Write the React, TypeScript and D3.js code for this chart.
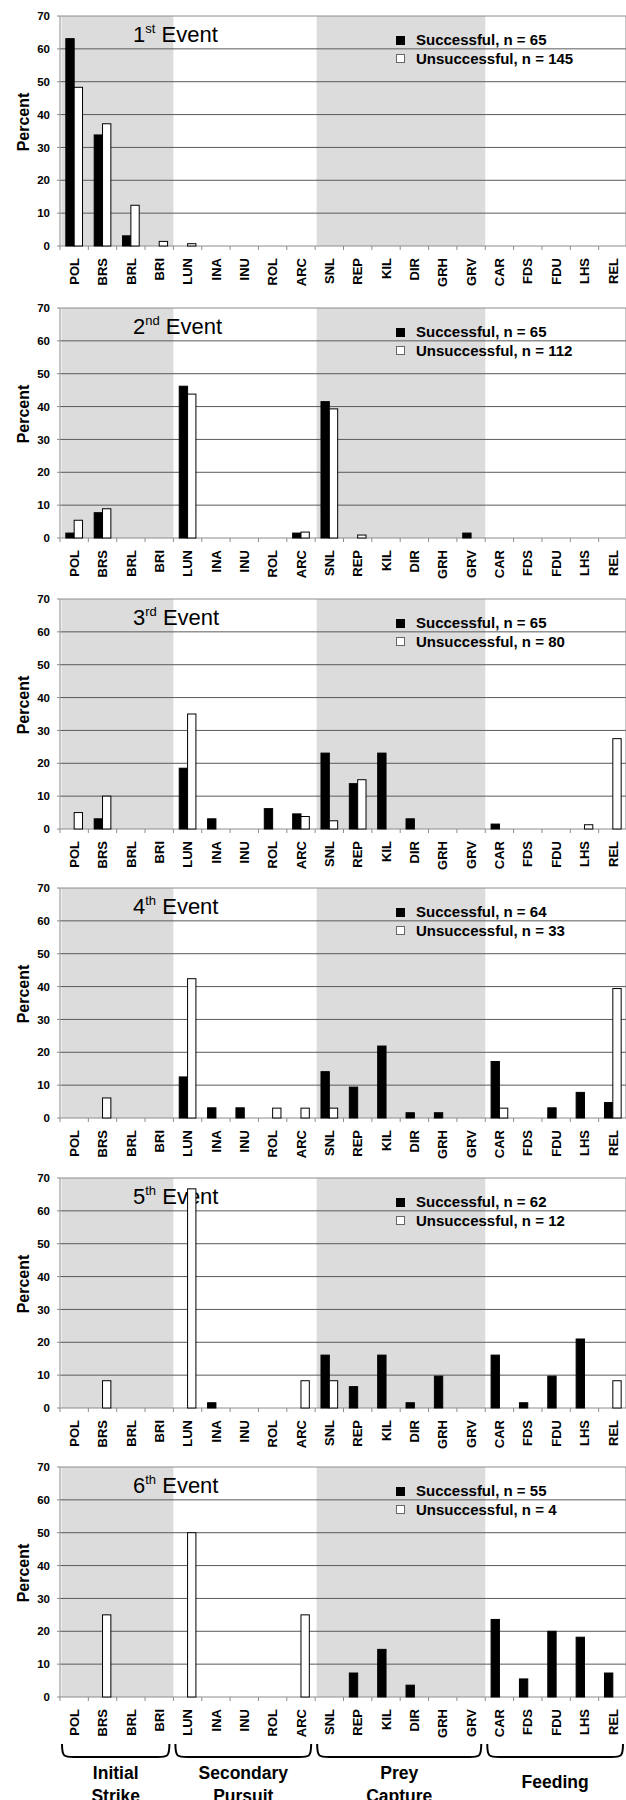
import React from 'react'
import * as d3 from 'd3'

// behaviour categories along the x axis
const categories = ['POL', 'BRS', 'BRL', 'BRI', 'LUN', 'INA', 'INU', 'ROL', 'ARC', 'SNL', 'REP', 'KIL', 'DIR', 'GRH', 'GRV', 'CAR', 'FDS', 'FDU', 'LHS', 'REL']

// percent of strikes per category, one row per event
const successful = [
  [63.1, 33.8, 3.1, 0, 0, 0, 0, 0, 0, 0, 0, 0, 0, 0, 0, 0, 0, 0, 0, 0],
  [1.5, 7.7, 0, 0, 46.2, 0, 0, 0, 1.5, 41.5, 0, 0, 0, 0, 1.5, 0, 0, 0, 0, 0],
  [0, 3.1, 0, 0, 18.5, 3.1, 0, 6.2, 4.6, 23.1, 13.8, 23.1, 3.1, 0, 0, 1.5, 0, 0, 0, 0],
  [0, 0, 0, 0, 12.5, 3.1, 3.1, 0, 0, 14.1, 9.4, 21.9, 1.6, 1.6, 0, 17.2, 0, 3.1, 7.8, 4.7],
  [0, 0, 0, 0, 0, 1.6, 0, 0, 0, 16.1, 6.5, 16.1, 1.6, 9.7, 0, 16.1, 1.6, 9.7, 21.0, 0],
  [0, 0, 0, 0, 0, 0, 0, 0, 0, 0, 7.3, 14.5, 3.6, 0, 0, 23.6, 5.5, 20.0, 18.2, 7.3],
]
const unsuccessful = [
  [48.3, 37.2, 12.4, 1.4, 0.7, 0, 0, 0, 0, 0, 0, 0, 0, 0, 0, 0, 0, 0, 0, 0],
  [5.4, 8.9, 0, 0, 43.8, 0, 0, 0, 1.8, 39.3, 0.9, 0, 0, 0, 0, 0, 0, 0, 0, 0],
  [5.0, 10.0, 0, 0, 35.0, 0, 0, 0, 3.8, 2.5, 15.0, 0, 0, 0, 0, 0, 0, 0, 1.3, 27.5],
  [0, 6.1, 0, 0, 42.4, 0, 0, 3.0, 3.0, 3.0, 0, 0, 0, 0, 0, 3.0, 0, 0, 0, 39.4],
  [0, 8.3, 0, 0, 66.7, 0, 0, 0, 8.3, 8.3, 0, 0, 0, 0, 0, 0, 0, 0, 0, 8.3],
  [0, 25.0, 0, 0, 50.0, 0, 0, 0, 25.0, 0, 0, 0, 0, 0, 0, 0, 0, 0, 0, 0],
]
const nSuccessful = [65, 65, 65, 64, 62, 55]
const nUnsuccessful = [145, 112, 80, 33, 12, 4]
const eventNumbers = ['1', '2', '3', '4', '5', '6']
const ordinals = ['st', 'nd', 'rd', 'th', 'th', 'th']
const yTicks = [0, 10, 20, 30, 40, 50, 60, 70]

// phase groups: first and last category, label lines
const groups = [
  { from: 'POL', to: 'BRI', lines: ['Initial', 'Strike'], shaded: true },
  { from: 'LUN', to: 'ARC', lines: ['Secondary', 'Pursuit'], shaded: false },
  { from: 'SNL', to: 'GRV', lines: ['Prey', 'Capture'], shaded: true },
  { from: 'CAR', to: 'REL', lines: ['Feeding'], shaded: false },
]

const W = 626
const H = 1800
const left = 60
const plotH = 230
const panelTops = [16, 308, 599, 888, 1178, 1467]
const font = '"Liberation Sans", Arial, sans-serif'

const x = d3.scaleBand<string>().domain(categories).range([left, left + 20 * 28.35])
const bw = x.bandwidth()
const sub = d3.scaleBand<string>().domain(['s', 'u']).range([0, bw]).paddingInner(0).paddingOuter(0.7)

function Panel({ i }: { i: number }) {
  const top = panelTops[i]
  const y = d3.scaleLinear().domain([0, 70]).range([top + plotH, top])
  const y0 = y(0)
  const right = x.range()[1]
  return (
    <g>
      {groups.filter(g => g.shaded).map(g => (
        <rect key={g.from} x={(x(g.from) as number) + 1.5} y={top} width={(x(g.to) as number) + bw - (x(g.from) as number) - 1.5} height={plotH} fill="#dcdcdc" />
      ))}
      {yTicks.map(t => (
        <line key={t} x1={left} x2={right} y1={y(t)} y2={y(t)} stroke={t === 0 || t === 70 ? '#8c8c8c' : '#5a5a5a'} strokeWidth={1} />
      ))}
      <line x1={right - 1} x2={right - 1} y1={top} y2={y0} stroke="#8c8c8c" />
      <line x1={left} x2={left} y1={top} y2={y0 + 4} stroke="#8c8c8c" />
      {yTicks.map(t => (
        <g key={t}>
          <line x1={left - 3} x2={left} y1={y(t)} y2={y(t)} stroke="#8c8c8c" />
          <text x={50} y={y(t)} dy="0.36em" textAnchor="end" fontSize={11.5} fontWeight="bold" fontFamily={font}>{t}</text>
        </g>
      ))}
      {categories.map((c, k) => (
        <line key={c} x1={(x(c) as number) + bw} x2={(x(c) as number) + bw} y1={y0} y2={y0 + 4} stroke="#8c8c8c" />
      ))}
      {categories.map(c => (
        <text key={c} transform={`translate(${(x(c) as number) + bw / 2},${y0 + 12}) rotate(-90)`} dy="0.36em" textAnchor="end" fontSize={13} fontWeight="bold" fontFamily={font}>{c}</text>
      ))}
      <text transform={`translate(23,${top + 106}) rotate(-90)`} dy="0.36em" textAnchor="middle" fontSize={16} fontWeight="bold" fontFamily={font}>Percent</text>
      <text x={133} y={top + 25.5} fontSize={22} fontFamily={font}>
        {eventNumbers[i]}
        <tspan fontSize={13} dy={-9}>{ordinals[i]}</tspan>
        <tspan fontSize={22} dy={9}> Event</tspan>
      </text>
      <rect x={396.5} y={top + 20.5} width={8} height={8} fill="#000" stroke="#000" />
      <rect x={396.5} y={top + 38.5} width={8} height={8} fill="#fff" stroke="#666" />
      <text x={416} y={top + 29} fontSize={15} fontWeight="bold" fontFamily={font}>Successful, n = {nSuccessful[i]}</text>
      <text x={416} y={top + 47.5} fontSize={15} fontWeight="bold" fontFamily={font}>Unsuccessful, n = {nUnsuccessful[i]}</text>
      {categories.map((c, k) => successful[i][k] > 0 ? (
        <rect key={'s' + c} x={(x(c) as number) + (sub('s') as number)} y={y(successful[i][k])} width={sub.bandwidth()} height={y0 - y(successful[i][k])} fill="#000" stroke="#000" strokeWidth={1} />
      ) : null)}
      {categories.map((c, k) => unsuccessful[i][k] > 0 ? (
        <rect key={'u' + c} x={(x(c) as number) + (sub('u') as number)} y={y(unsuccessful[i][k])} width={sub.bandwidth()} height={y0 - y(unsuccessful[i][k])} fill="#fff" stroke="#000" strokeWidth={1} />
      ) : null)}
    </g>
  )
}

function Brackets() {
  const top = 1744
  const bottom = 1757
  return (
    <g>
      {groups.map(g => {
        const x1 = (x(g.from) as number) + 2
        const x2 = (x(g.to) as number) + bw - 4
        const p = d3.path()
        p.moveTo(x1, top)
        p.bezierCurveTo(x1, bottom, x1 + 2, bottom, x1 + 12, bottom)
        p.lineTo(x2 - 12, bottom)
        p.bezierCurveTo(x2 - 2, bottom, x2, bottom, x2, top)
        const cx = (x1 + x2) / 2
        return (
          <g key={g.from}>
            <path d={p.toString()} fill="none" stroke="#000" strokeWidth={2} />
            {g.lines.length === 1 ? (
              <text x={cx} y={1788} textAnchor="middle" fontSize={17.5} fontWeight="bold" fontFamily={font}>{g.lines[0]}</text>
            ) : g.lines.map((l, j) => (
              <text key={l} x={cx} y={1779 + j * 23} textAnchor="middle" fontSize={17.5} fontWeight="bold" fontFamily={font}>{l}</text>
            ))}
          </g>
        )
      })}
    </g>
  )
}

export default function App() {
  return (
    <svg width={W} height={H} style={{ position: 'absolute', left: 0, top: 0, background: '#fff' }}>
      <rect width={W} height={H} fill="#fff" />
      {panelTops.map((_, i) => <Panel key={i} i={i} />)}
      <Brackets />
    </svg>
  )
}
